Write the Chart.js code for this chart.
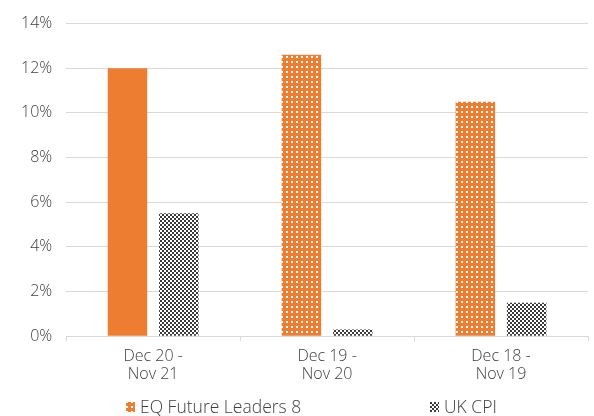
<!DOCTYPE html>
<html>
<head>
<meta charset="utf-8">
<script src="https://cdn.jsdelivr.net/npm/chart.js@4.4.1/dist/chart.umd.min.js"></script>
<style>
  html, body { margin: 0; padding: 0; background: #ffffff; }
  #wrap { width: 594px; height: 416px; position: relative; }
</style>
</head>
<body>
<div id="wrap"><canvas id="returns-chart"></canvas></div>
<script>
const periods = [["Dec 20 -", "Nov 21"], ["Dec 19 -", "Nov 20"], ["Dec 18 -", "Nov 19"]];
const fundReturns = [12.0, 12.6, 10.5];
const ukCpi = [5.5, 0.3, 1.5];
const yTicks = [0, 2, 4, 6, 8, 10, 12, 14];
const seriesNames = ["EQ Future Leaders 8", "UK CPI"];

const ORANGE = "#ED7D31";
const FONT = "'Open Sans', Lato, sans-serif";
const TEXT = "#404040";

function makeTile(size, paint) {
  const tile = document.createElement("canvas");
  tile.width = size;
  tile.height = size;
  paint(tile.getContext("2d"));
  return tile;
}

// orange with small white dots
const dotTile = makeTile(5, (c) => {
  c.fillStyle = ORANGE;
  c.fillRect(0, 0, 5, 5);
  c.fillStyle = "#ffffff";
  c.fillRect(1, 1, 2, 2);
});

// dark grey / white checkerboard
const checkTile = makeTile(4, (c) => {
  c.fillStyle = "#ffffff";
  c.fillRect(0, 0, 4, 4);
  c.fillStyle = "#3b3b3b";
  c.fillRect(0, 0, 2, 2);
  c.fillRect(2, 2, 2, 2);
});

const ctx = document.getElementById("returns-chart").getContext("2d");
const dotPattern = ctx.createPattern(dotTile, "repeat");
const checkPattern = ctx.createPattern(checkTile, "repeat");

const legendItems = [
  { text: seriesNames[0], fill: dotPattern, x: 126 },
  { text: seriesNames[1], fill: checkPattern, x: 430 },
];

// Excel-style legend spread across the bottom
const bottomLegend = {
  id: "bottomLegend",
  afterDraw(chart) {
    const c = chart.ctx;
    const y = 407;
    c.save();
    c.font = "300 17.5px " + FONT;
    c.textBaseline = "middle";
    legendItems.forEach((item) => {
      c.fillStyle = item.fill;
      c.fillRect(item.x, y - 5, 9, 10);
      c.fillStyle = TEXT;
      c.fillText(item.text, item.x + 14, y + 1);
    });
    c.restore();
  },
};

new Chart(ctx, {
  type: "bar",
  data: {
    labels: periods,
    datasets: [
      {
        label: seriesNames[0],
        data: fundReturns,
        backgroundColor: [ORANGE, dotPattern, dotPattern],
        borderWidth: 0,
        categoryPercentage: 0.59,
        barPercentage: 0.77,
      },
      {
        label: seriesNames[1],
        data: ukCpi,
        backgroundColor: checkPattern,
        borderWidth: 0,
        categoryPercentage: 0.59,
        barPercentage: 0.77,
      },
    ],
  },
  options: {
    responsive: true,
    maintainAspectRatio: false,
    animation: false,
    layout: { padding: { top: 7, right: 6, bottom: 27, left: 7 } },
    plugins: {
      legend: { display: false },
      tooltip: { enabled: false },
    },
    scales: {
      x: {
        grid: {
          display: true,
          drawOnChartArea: false,
          offset: true,
          tickLength: 5,
          color: "#d9d9d9",
        },
        border: { color: "#d9d9d9", width: 1 },
        ticks: {
          color: TEXT,
          font: { family: FONT, size: 16, weight: 300, lineHeight: 1.12 },
          padding: 6,
        },
      },
      y: {
        min: 0,
        max: 14,
        afterBuildTicks(axis) {
          axis.ticks = yTicks.map((v) => ({ value: v }));
        },
        grid: { color: "#d9d9d9", lineWidth: 1, drawTicks: false },
        border: { display: false },
        ticks: {
          color: TEXT,
          font: { family: FONT, size: 16, weight: 300 },
          padding: 14,
          callback: (v) => v + "%",
        },
      },
    },
  },
  plugins: [bottomLegend],
});
</script>
</body>
</html>
